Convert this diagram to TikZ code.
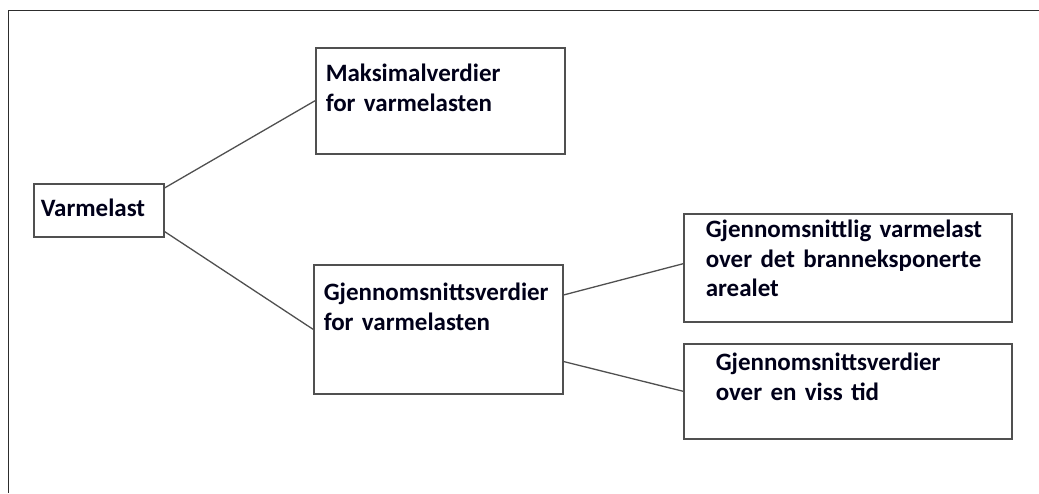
\documentclass[tikz,border=0pt]{standalone}
\usepackage{fontspec}
\setmainfont{Carlito}
\usepackage{tikz}
\usetikzlibrary{positioning}
\definecolor{boxgray}{RGB}{80,80,80}
\definecolor{framegray}{RGB}{45,45,45}
\newcommand{\boxfont}{\bfseries\fontsize{25pt}{29.5pt}\selectfont}
\hyphenpenalty=10000

\begin{document}
\begin{tikzpicture}[
    x=1pt, y=-1pt,
    box/.style={draw=boxgray, line width=1.5pt, anchor=north west, inner sep=0pt, align=left, font=\boxfont, text=black!90!blue},
    indent/.style={execute at begin node={\leftskip=#1}},
    link/.style={draw=boxgray, line width=1.3pt},
    frame/.style={draw=framegray, line width=1.6pt}
]
\useasboundingbox (0,0) rectangle (1039,493);

% Outer frame (top and left edge only)
\draw[frame] (1039,10.5) -- (8.5,10.5) -- (8.5,493);

% Root
\node[box, indent=7pt, text width=130pt, text height=33pt, text depth=20pt] (var) at (33,183) {Varmelast};

% Second level
\node[box, indent=10pt, text width=249pt, text height=34pt, text depth=72pt] (maks) at (315,47) {Maksimalverdier\\for varmelasten};
\node[box, indent=10pt, text width=249pt, text height=36pt, text depth=93pt] (snitt) at (313,264) {Gjennomsnittsverdier\\for varmelasten};

% Third level
\node[box, indent=22pt, text width=328pt, text height=24pt, text depth=84pt] (areal) at (683,213) {Gjennomsnittlig varmelast\\over det branneksponerte\\arealet};
\node[box, indent=32pt, text width=328pt, text height=27pt, text depth=68pt] (tid) at (683,343) {Gjennomsnittsverdier\\over en viss tid};

% Connections
\draw[link] ([yshift=-5pt]var.north east) -- (maks.west);
\draw[link] ([yshift=6pt]var.south east) -- (snitt.west);
\draw[link] ([yshift=-31pt]snitt.north east) -- ([yshift=4pt]areal.west);
\draw[link] ([yshift=33pt]snitt.south east) -- (tid.west);

\end{tikzpicture}
\end{document}
